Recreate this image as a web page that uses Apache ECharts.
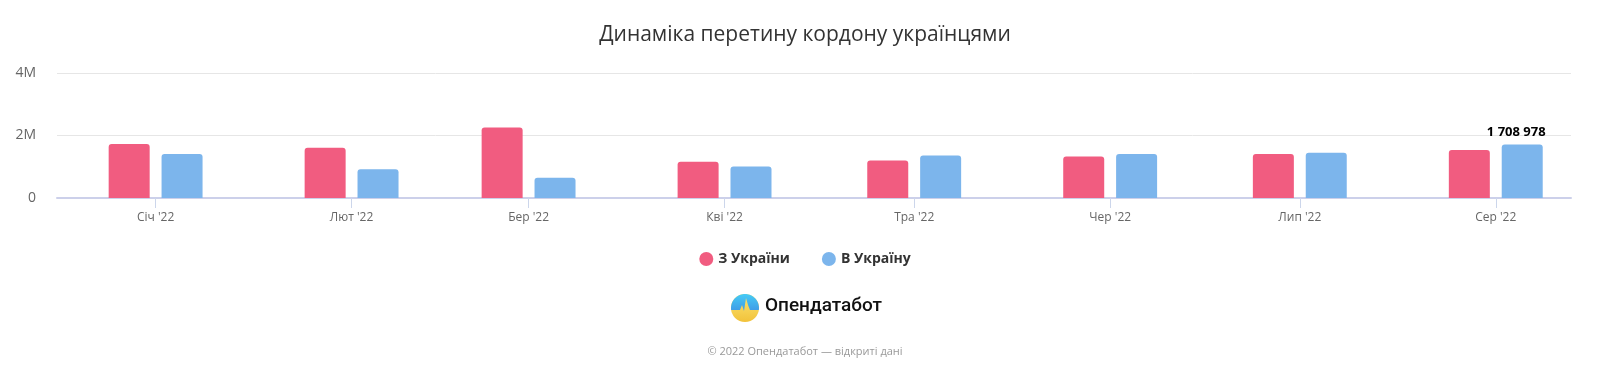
<!DOCTYPE html>
<html>
<head>
<meta charset="utf-8">
<script src="https://cdn.jsdelivr.net/npm/echarts@6/dist/echarts.min.js"></script>
<style>
html,body{margin:0;padding:0;background:#fff;}
#chart{width:1610px;height:375px;}
</style>
</head>
<body>
<div id="chart"></div>
<script>
// Data
var monthLabels = ["Січ '22", "Лют '22", "Бер '22", "Кві '22", "Тра '22", "Чер '22", "Лип '22", "Сер '22"];
var monthStarts = [
  Date.UTC(2022, 0, 1), Date.UTC(2022, 1, 1), Date.UTC(2022, 2, 1),
  Date.UTC(2022, 3, 1), Date.UTC(2022, 4, 1), Date.UTC(2022, 5, 1),
  Date.UTC(2022, 6, 1), Date.UTC(2022, 7, 1)
];
var fromUkraine = [1730000, 1610000, 2260000, 1160000, 1200000, 1330000, 1410000, 1540000];
var toUkraine = [1410000, 920000, 645000, 1010000, 1360000, 1410000, 1450000, 1708978];
var seriesNames = ["З України", "В Україну"];

var chart = echarts.init(document.getElementById('chart'), null, {renderer: 'canvas'});

function fmtSpace(v) {
  return String(v).replace(/\B(?=(\d{3})+(?!\d))/g, ' ');
}

var redData = monthStarts.map(function (t, i) { return [t, fromUkraine[i]]; });
var blueData = monthStarts.map(function (t, i) {
  var item = {value: [t, toUkraine[i]]};
  if (i === monthStarts.length - 1) {
    item.label = {
      show: true, position: 'top', distance: 6,
      formatter: function (p) { return fmtSpace(p.value[1]); },
      fontSize: 13, fontWeight: 'bold', color: '#000',
      fontFamily: 'Open Sans', offset: [-6, 0]
    };
  }
  return item;
});

var font = 'Open Sans';
var DAY = 86400000;

// logo geometry (decoration only)
var cx = 745, cy = 308, r = 14, by = 310;
var topPts = [];
var a0 = Math.asin((by - cy) / r);
for (var k = 0; k <= 40; k++) {
  var a = Math.PI - a0 + (Math.PI + 2 * a0) * k / 40;
  topPts.push([cx + r * Math.cos(a), cy + r * Math.sin(a)]);
}
var pulse = [[cx + 5, by], [cx + 3, by - 5], [cx + 1, by - 12], [cx - 1, by + 1], [cx - 3, by - 5], [cx - 5, by]];
var bluePoly = topPts.concat(pulse);

chart.setOption({
  animation: false,
  color: ['#f15c80', '#7cb5ec'],
  title: {
    text: 'Динаміка перетину кордону українцями',
    left: 'center', top: 20,
    textStyle: {fontSize: 21, fontWeight: 'normal', color: '#333', fontFamily: font}
  },
  legend: {
    data: seriesNames,
    left: 'center', top: 247,
    icon: 'circle', itemWidth: 14, itemHeight: 14, itemGap: 32,
    textStyle: {fontSize: 14, fontWeight: 'bold', color: '#333', fontFamily: font}
  },
  grid: {left: 57, right: 39, top: 73, height: 125},
  xAxis: {
    type: 'value',
    min: monthStarts[0] - 15.6 * DAY,
    max: monthStarts[7] + 11.9 * DAY,
    axisLine: {onZero: false, lineStyle: {color: '#ccd0ea', width: 2}},
    axisTick: {show: true, length: 10, lineStyle: {color: '#ccd6eb'}, customValues: monthStarts},
    axisLabel: {
      customValues: monthStarts,
      color: '#666', fontSize: 12, fontFamily: font, margin: 14,
      formatter: function (v) {
        var idx = monthStarts.indexOf(v);
        return idx >= 0 ? monthLabels[idx] : '';
      }
    },
    splitLine: {show: false}
  },
  yAxis: {
    type: 'value',
    min: 0, max: 4000000, interval: 2000000,
    axisLine: {show: false},
    axisTick: {show: false},
    axisLabel: {
      color: '#666', fontSize: 14, fontFamily: font, margin: 21,
      formatter: function (v) { return v === 0 ? '0' : (v / 1000000) + 'M'; }
    },
    splitLine: {lineStyle: {color: '#e6e6e6'}}
  },
  series: [
    {
      name: seriesNames[0], type: 'bar', data: redData,
      barWidth: 41, barGap: '29%',
      itemStyle: {borderRadius: [3, 3, 0, 0]}
    },
    {
      name: seriesNames[1], type: 'bar', data: blueData,
      barWidth: 41, barGap: '29%',
      itemStyle: {borderRadius: [3, 3, 0, 0]}
    }
  ],
  graphic: [
    {
      type: 'circle', shape: {cx: cx, cy: cy, r: r},
      style: {
        fill: new echarts.graphic.LinearGradient(0, 0, 0, 1, [
          {offset: 0, color: '#fbe675'},
          {offset: 1, color: '#f2c23a'}
        ])
      }
    },
    {
      type: 'polygon', shape: {points: bluePoly},
      style: {
        fill: new echarts.graphic.LinearGradient(0, 0, 0, 1, [
          {offset: 0, color: '#45cbf6'},
          {offset: 1, color: '#3f9be6'}
        ])
      }
    },
    {
      type: 'text', left: 765, top: 297,
      style: {text: 'Опендатабот', fontSize: 19, fontFamily: 'Roboto', fill: '#111', fontWeight: 500}
    },
    {
      type: 'text', left: 'center', top: 346,
      style: {text: '© 2022 Опендатабот — відкриті дані', fontSize: 11, fontFamily: font, fill: '#999'}
    }
  ]
});
</script>
</body>
</html>
